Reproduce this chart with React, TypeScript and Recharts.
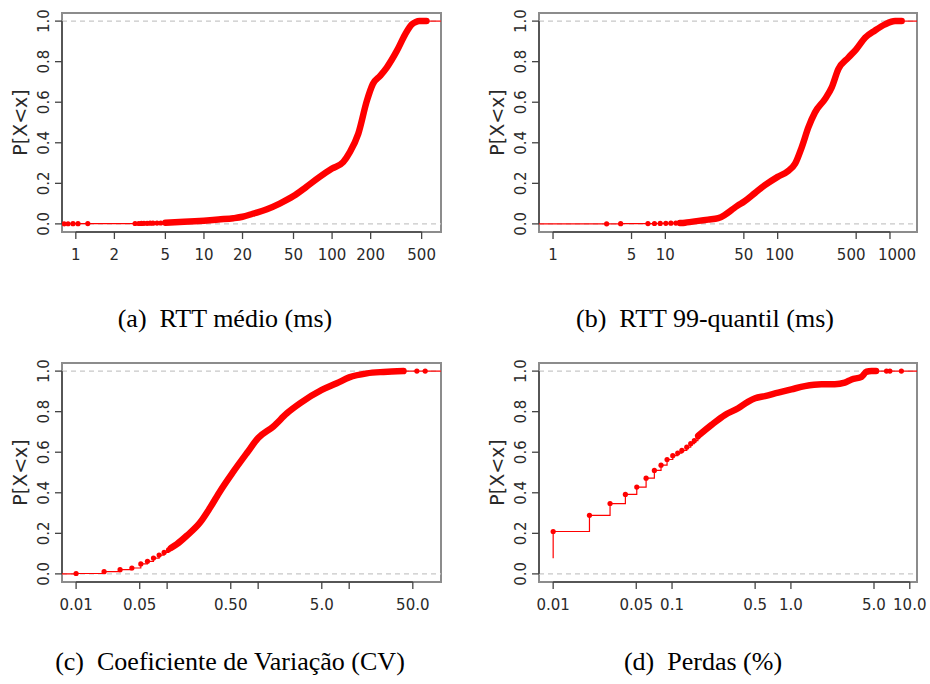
import React from 'react';
import {
  ComposedChart,
  Line,
  Scatter,
  XAxis,
  YAxis,
  ReferenceLine,
  ReferenceArea,
  Label,
} from 'recharts';

// shared y axis
const probTicks = [0, 0.2, 0.4, 0.6, 0.8, 1];
const probDomain: [number, number] = [-0.04, 1.04];

// (a) RTT médio (ms)
const rttMeanTicks = [1, 2, 5, 10, 20, 50, 100, 200, 500];
const rttMeanTickLabels = ['1', '2', '5', '10', '20', '50', '100', '200', '500'];
const rttMeanDotX = [0.81, 0.87, 0.95, 1.04, 1.24, 2.9, 3.1, 3.25, 3.4, 3.6, 3.8, 4.0, 4.3, 4.6];
const rttMeanDotP = [0.0003, 0.0006, 0.0009, 0.0012, 0.0015, 0.0018, 0.002, 0.0023, 0.0026, 0.003, 0.0033, 0.0036, 0.004, 0.0045];
const rttMeanBandX = [5, 7, 10, 13, 17, 20, 24, 31, 39, 50, 63, 80, 100, 122, 138, 160, 187, 208, 237, 267, 320, 372, 419, 450, 480, 510, 545];
const rttMeanBandP = [0.006, 0.01, 0.016, 0.022, 0.028, 0.035, 0.05, 0.072, 0.1, 0.137, 0.183, 0.232, 0.273, 0.305, 0.355, 0.444, 0.608, 0.69, 0.73, 0.771, 0.853, 0.935, 0.984, 0.996, 1.0, 1.0, 1.0];

// (b) RTT 99-quantil (ms)
const rttQ99Ticks = [1, 5, 10, 50, 100, 500, 1000];
const rttQ99TickLabels = ['1', '5', '10', '50', '100', '500', '1000'];
const rttQ99DotX = [3.0, 4.0, 7.0, 8.0, 9.0, 10.1, 11.2, 12.4];
const rttQ99DotP = [0.0005, 0.001, 0.0015, 0.002, 0.0025, 0.003, 0.0035, 0.004];
const rttQ99BandX = [13.5, 15, 17, 19.7, 24, 29.6, 34, 39, 44, 50, 63, 77, 100, 124, 143, 164, 188, 215, 264, 303, 347, 426, 500, 600, 736, 904, 1110, 1270];
const rttQ99BandP = [0.004, 0.006, 0.01, 0.015, 0.021, 0.028, 0.045, 0.069, 0.09, 0.109, 0.153, 0.191, 0.232, 0.261, 0.297, 0.379, 0.477, 0.55, 0.616, 0.673, 0.763, 0.82, 0.861, 0.918, 0.954, 0.984, 1.0, 1.0];

// (c) Coeficiente de Variação (CV)
const cvTicks = [0.01, 0.05, 0.1, 0.5, 1, 5, 10, 50];
const cvTickLabels = ['0.01', '0.05', '', '0.50', '', '5.0', '', '50.0'];
const cvDotX = [0.01, 0.0203, 0.0304, 0.041, 0.0514, 0.0608, 0.0708, 0.0817, 0.0927, 0.1035];
const cvDotP = [0.002, 0.011, 0.021, 0.029, 0.049, 0.062, 0.078, 0.093, 0.106, 0.118];
const cvBandX = [0.11, 0.128, 0.164, 0.23, 0.297, 0.382, 0.522, 0.752, 1.0, 1.47, 2.07, 2.9, 5.0, 7.3, 10, 15.6, 23.8, 39.5];
const cvBandP = [0.128, 0.147, 0.188, 0.253, 0.327, 0.408, 0.498, 0.596, 0.67, 0.727, 0.792, 0.842, 0.907, 0.94, 0.969, 0.989, 0.996, 1.0];
const cvTailX = [55.4, 68.4];
const cvTailP = [1.0, 1.0];

// (d) Perdas (%)
const lossTicks = [0.01, 0.05, 0.1, 0.5, 1, 5, 10];
const lossTickLabels = ['0.01', '0.05', '0.1', '0.5', '1.0', '5.0', '10.0'];
const lossDotX = [0.01, 0.0202, 0.0301, 0.0405, 0.0505, 0.0605, 0.071, 0.0808, 0.0908, 0.1014, 0.1116, 0.121, 0.133, 0.1436, 0.154, 0.165];
const lossDotP = [0.209, 0.289, 0.347, 0.392, 0.428, 0.472, 0.51, 0.536, 0.564, 0.583, 0.596, 0.609, 0.625, 0.642, 0.657, 0.675];
const lossBandX = [0.166, 0.215, 0.279, 0.36, 0.438, 0.5, 0.605, 0.782, 1.01, 1.31, 1.81, 2.34, 2.84, 3.24, 3.93, 4.32, 4.76, 5.2];
const lossBandP = [0.681, 0.735, 0.784, 0.817, 0.85, 0.866, 0.877, 0.894, 0.91, 0.926, 0.935, 0.935, 0.943, 0.959, 0.972, 0.997, 1.0, 1.0];
const lossTailX = [6.37, 6.8, 8.5];
const lossTailP = [1.0, 1.0, 1.0];
const lossStepStart = { x: 0.01, p: 0.077 };

const captions = [
  '(a)\u2002RTT médio (ms)',
  '(b)\u2002RTT 99-quantil (ms)',
  '(c)\u2002Coeficiente de Variação (CV)',
  '(d)\u2002Perdas (%)',
];

type Pt = { x: number; p: number };
const zip = (xs: number[], ps: number[]): Pt[] => xs.map((x, i) => ({ x, p: ps[i] }));

const RED = '#ff0000';
const AXIS = '#444';
const TEXT = '#2a2a2a';
const FONT = '"DejaVu Sans", sans-serif';

const dotShape = (props: any) => <circle cx={props.cx} cy={props.cy} r={2.6} fill={RED} />;

interface PanelProps {
  left: number;
  top: number;
  yAxisWidth: number;
  rightMargin: number;
  domain: [number, number];
  ticks: number[];
  tickLabels: string[];
  labelNudge?: number[];
  dots: Pt[];
  band: Pt[];
  tail?: Pt[];
  stepStart?: Pt;
}

function EcdfPanel({
  left,
  top,
  yAxisWidth,
  rightMargin,
  domain,
  ticks,
  tickLabels,
  labelNudge,
  dots,
  band,
  tail = [],
  stepStart,
}: PanelProps) {
  const start = stepStart ?? { x: domain[0], p: 0 };
  // thin step line before and after the dense band
  const stepsBefore = [start, ...dots, band[0]];
  const stepsAfter = [band[band.length - 1], ...tail, { x: domain[1], p: 1 }];
  const allDots = [...dots, ...tail];

  const xTick = (props: any) => {
    const idx = ticks.indexOf(props.payload.value);
    const label = idx >= 0 ? tickLabels[idx] : '';
    const nudge = labelNudge && idx >= 0 ? labelNudge[idx] : 0;
    return (
      <text x={props.x + nudge} y={249} textAnchor="middle" dy="0.72em" fontFamily={FONT} fontSize={15} fill={TEXT}>
        {label}
      </text>
    );
  };

  const yTick = (props: any) => {
    const bx = yAxisWidth - 12.5;
    const cy = props.y;
    return (
      <text x={bx} y={cy} transform={`rotate(-90 ${bx} ${cy})`} textAnchor="middle" fontFamily={FONT} fontSize={15} fill={TEXT}>
        {Number(props.payload.value).toFixed(1)}
      </text>
    );
  };

  const yLabel = () => {
    const lx = yAxisWidth - 35;
    const ly = 122.5;
    return (
      <text x={lx} y={ly} transform={`rotate(-90 ${lx} ${ly})`} textAnchor="middle" fontFamily={FONT} fontSize={19} fill={TEXT}>
        P[X&lt;x]
      </text>
    );
  };

  return (
    <div style={{ position: 'absolute', left, top }}>
      <ComposedChart width={465} height={280} margin={{ top: 13, right: rightMargin, bottom: 0, left: 0 }}>
        <XAxis
          dataKey="x"
          type="number"
          scale="log"
          domain={domain}
          allowDataOverflow
          ticks={ticks}
          interval={0}
          height={48}
          axisLine={false}
          tickLine={{ stroke: AXIS, strokeWidth: 1.3 }}
          tickSize={7}
          tick={xTick}
        />
        <YAxis
          dataKey="p"
          type="number"
          domain={probDomain}
          allowDataOverflow
          ticks={probTicks}
          interval={0}
          width={yAxisWidth}
          axisLine={false}
          tickLine={{ stroke: AXIS, strokeWidth: 1.3 }}
          tickSize={7}
          tick={yTick}
        >
          <Label content={yLabel} />
        </YAxis>
        <ReferenceArea
          x1={domain[0]}
          x2={domain[1]}
          y1={probDomain[0]}
          y2={probDomain[1]}
          fill="none"
          fillOpacity={0}
          stroke="#8c8c8c"
          strokeWidth={2}
          ifOverflow="visible"
        />
        <ReferenceLine y={0} stroke="#c8c8c8" strokeDasharray="5 4" strokeWidth={1.3} />
        <ReferenceLine y={1} stroke="#c8c8c8" strokeDasharray="5 4" strokeWidth={1.3} />
        <ReferenceLine
          segment={[{ x: ticks[0], y: probDomain[0] }, { x: ticks[ticks.length - 1], y: probDomain[0] }]}
          stroke={AXIS}
          strokeWidth={1.5}
          ifOverflow="visible"
        />
        <ReferenceLine
          segment={[{ x: domain[0], y: 0 }, { x: domain[0], y: 1 }]}
          stroke={AXIS}
          strokeWidth={1.5}
          ifOverflow="visible"
        />
        <Line data={stepsBefore} dataKey="p" type="stepAfter" stroke={RED} strokeWidth={1.2} dot={false} isAnimationActive={false} />
        <Line data={stepsAfter} dataKey="p" type="stepAfter" stroke={RED} strokeWidth={1.2} dot={false} isAnimationActive={false} />
        <Line
          data={band}
          dataKey="p"
          type="monotone"
          stroke={RED}
          strokeWidth={6.5}
          strokeLinecap="round"
          strokeLinejoin="round"
          dot={false}
          isAnimationActive={false}
        />
        <Scatter data={allDots} dataKey="p" fill={RED} shape={dotShape} isAnimationActive={false} />
      </ComposedChart>
    </div>
  );
}

const Caption = ({ text, center, top }: { text: string; center: number; top: number }) => (
  <div
    style={{
      position: 'absolute',
      left: center - 250,
      top,
      width: 500,
      textAlign: 'center',
      fontFamily: '"Liberation Serif", serif',
      fontSize: 26,
      lineHeight: '26px',
      whiteSpace: 'pre',
      color: '#000',
    }}
  >
    {text}
  </div>
);

export default function App() {
  return (
    <div style={{ position: 'absolute', left: 0, top: 0, width: 930, height: 684, background: '#fff' }}>
      <EcdfPanel
        left={0}
        top={0}
        yAxisWidth={62}
        rightMargin={24}
        domain={[0.78, 708]}
        ticks={rttMeanTicks}
        tickLabels={rttMeanTickLabels}
        dots={zip(rttMeanDotX, rttMeanDotP)}
        band={zip(rttMeanBandX, rttMeanBandP)}
      />
      <EcdfPanel
        left={465}
        top={0}
        yAxisWidth={74}
        rightMargin={13}
        domain={[0.75, 1740]}
        ticks={rttQ99Ticks}
        tickLabels={rttQ99TickLabels}
        labelNudge={[0, 0, 0, 0, 2, -5, 7]}
        dots={zip(rttQ99DotX, rttQ99DotP)}
        band={zip(rttQ99BandX, rttQ99BandP)}
      />
      <EcdfPanel
        left={0}
        top={350}
        yAxisWidth={62}
        rightMargin={24}
        domain={[0.007, 102]}
        ticks={cvTicks}
        tickLabels={cvTickLabels}
        dots={zip(cvDotX, cvDotP)}
        band={zip(cvBandX, cvBandP)}
        tail={zip(cvTailX, cvTailP)}
      />
      <EcdfPanel
        left={465}
        top={350}
        yAxisWidth={74}
        rightMargin={13}
        domain={[0.0076, 11.5]}
        ticks={lossTicks}
        tickLabels={lossTickLabels}
        dots={zip(lossDotX, lossDotP)}
        band={zip(lossBandX, lossBandP)}
        tail={zip(lossTailX, lossTailP)}
        stepStart={lossStepStart}
      />
      <Caption text={captions[0]} center={225} top={306} />
      <Caption text={captions[1]} center={705} top={306} />
      <Caption text={captions[2]} center={230} top={649} />
      <Caption text={captions[3]} center={703} top={649} />
    </div>
  );
}
